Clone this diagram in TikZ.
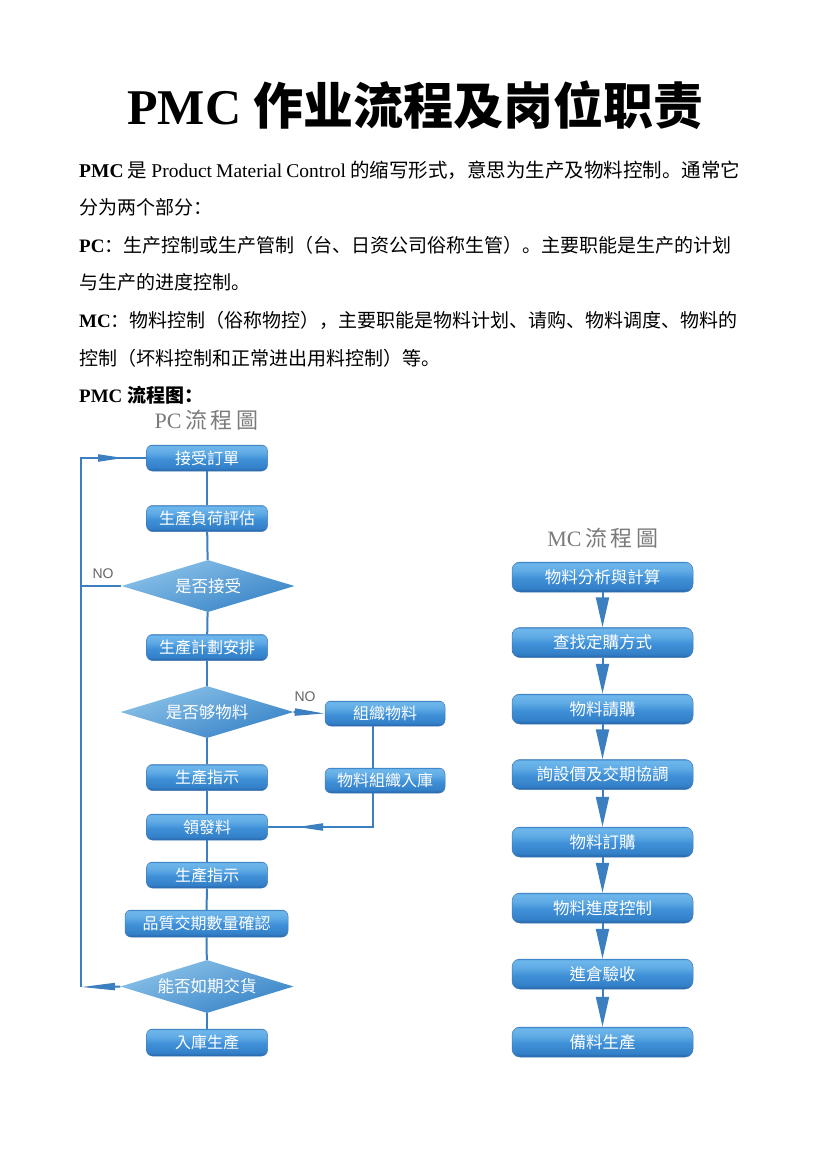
\documentclass[tikz,border=0pt]{standalone}
\usepackage{fontspec}
\setmainfont{Liberation Serif}
\newfontfamily\cjksc{Noto Sans CJK SC}
\newfontfamily\cjktc{Noto Sans CJK TC}
\newfontfamily\lsans{Liberation Sans}
\usetikzlibrary{shapes.geometric,arrows.meta}
\definecolor{lineblue}{HTML}{3B7FC0}
\definecolor{bedge}{HTML}{2563A8}
\definecolor{bdark}{HTML}{3380C8}
\definecolor{bmid}{HTML}{3F90D8}
\definecolor{blight}{HTML}{6CB5EA}
\definecolor{dtop}{HTML}{8EC4EA}
\definecolor{dbot}{HTML}{3582C6}
\definecolor{titlegray}{HTML}{7A7A7A}
\pgfdeclareverticalshading{boxshade}{100bp}{color(0bp)=(bedge); color(25bp)=(bedge); color(31bp)=(bdark); color(48bp)=(bmid); color(60bp)=(blight!70!bmid); color(70bp)=(blight); color(73bp)=(blight); color(75bp)=(bmid); color(100bp)=(bmid)}
\tikzset{
  every node/.style={inner sep=0pt},
  bodytext/.style={anchor=west, font=\fontsize{19}{19}\selectfont},
  pcbox/.style={rectangle, rounded corners=6pt, shading=boxshade, draw=bedge!85, line width=0.5pt,
     minimum width=121pt, minimum height=26pt, text=white, font=\cjktc\fontsize{16}{16}\selectfont},
  mcbox/.style={pcbox, rounded corners=8pt, minimum width=181pt, minimum height=30pt, font=\cjktc\fontsize{16.5}{16.5}\selectfont},
  decision/.style={diamond, aspect=3.3, top color=dtop, bottom color=dbot, shading angle=20,
     minimum width=173pt, minimum height=52pt, text=white, font=\cjktc\fontsize{16.5}{16.5}\selectfont},
  link/.style={draw=lineblue, line width=2pt},
  thinarrow/.style={link, -{Triangle[length=26pt,width=7pt]}},
  longarrow/.style={link, -{Triangle[length=34pt,width=7pt]}},
  bigarrow/.style={link, -{Triangle[length=30pt,width=13pt]}},
  nolabel/.style={text=black!60, font=\lsans\fontsize{14}{14}\selectfont},
  charttitle/.style={text=titlegray, font=\fontsize{22}{22}\selectfont}
}
\begin{document}
\begin{tikzpicture}[x=1pt,y=-1pt]
\useasboundingbox[fill=white] (0,0) rectangle (828,1171);

% Title
\node (title) at (415.5,105) {\fontsize{50}{50}\selectfont\bfseries PMC {\cjksc 作业流程及岗位职责}};

% Body text
\node[bodytext, font=\fontsize{19.5}{19.5}\selectfont] (l1) at (79,170) {\makebox[661pt][s]{\bfseries PMC\mdseries{} {\cjksc 是} Product Material Control {\cjksc 的缩写形式，意思为生产及物料控制。通常它}}};
\node[bodytext] (l2) at (79,207) {\cjksc 分为两个部分：};
\node[bodytext] (l3) at (79,245) {{\bfseries PC}{\cjksc ：生产控制或生产管制（台、日资公司俗称生管）。主要职能是生产的计划}};
\node[bodytext] (l4) at (79,282) {\cjksc 与生产的进度控制。};
\node[bodytext] (l5) at (79,320) {{\bfseries MC}{\cjksc ：物料控制（俗称物控），主要职能是物料计划、请购、物料调度、物料的}};
\node[bodytext] (l6) at (79,358) {\cjksc 控制（坏料控制和正常进出用料控制）等。};
\node[bodytext] (l7) at (79,395) {\bfseries PMC {\cjksc 流程图：}};

% PC chart
\node[charttitle] (pct) at (206.5,420) {PC{\cjktc\,流\,程\,圖}};
\node[pcbox] (n1) at (207,458) {接受訂單};
\node[pcbox] (n2) at (207,518.5) {生產負荷評估};
\node[decision] (d1) at (208,586) {是否接受};
\node[pcbox] (n3) at (207,647.5) {生產計劃安排};
\node[decision] (d2) at (207,712) {是否够物料};
\node[pcbox, minimum width=120pt, minimum height=25pt] (r1) at (385,713.5) {組織物料};
\node[pcbox, minimum width=120pt, minimum height=25pt] (r2) at (385,780.5) {物料組織入庫};
\node[pcbox] (n4) at (207,777.5) {生產指示};
\node[pcbox] (n5) at (207,827) {領發料};
\node[pcbox] (n6) at (207,875) {生產指示};
\node[pcbox, minimum width=163pt, minimum height=27pt] (n7) at (206.5,923.5) {品質交期數量確認};
\node[decision, minimum height=53pt] (d3) at (207,986.5) {能否如期交貨};
\node[pcbox, minimum height=27pt] (n8) at (207,1042.5) {入庫生產};

\node[nolabel] (no1) at (103,574) {NO};
\node[nolabel] (no2) at (305,697) {NO};

% trunk
\draw[link] (n1) -- (n2);
\draw[link] (n2) -- (d1);
\draw[link] (d1) -- (n3);
\draw[link] (n3) -- (d2);
\draw[link] (d2) -- (n4);
\draw[link] (n4) -- (n5);
\draw[link] (n5) -- (n6);
\draw[link] (n6) -- (n7);
\draw[link] (n7) -- (d3);
\draw[link] (d3) -- (n8);

% loop back
\coordinate (lb) at (81,987);
\coordinate (lt) at (81,458);
\coordinate (la) at (124,458);
\draw[link] (lb) -- (lt) -- (la) -- (n1.west);
\draw[longarrow] (d3.west) -- (lb);
\draw[thinarrow] (lt) -- (la);
\draw[link] (d1.west) -- (d1.west -| lt);

% material branch
\draw[link, -{Triangle[length=30pt,width=7pt]}] (d2.east) -- (r1.west);
\coordinate (xr) at (373,0);
\draw[link] (r1.south -| xr) -- (r2.north -| xr);
\coordinate (rc) at (xr |- n5.east);
\coordinate (ra) at (297,827);
\draw[link] (r2.south -| xr) -- (rc) -- (n5.east);
\draw[thinarrow] (rc) -- (ra);

% MC chart
\node[charttitle] (mct) at (603,538) {MC{\cjktc\,流\,程\,圖}};
\node[mcbox] (m1) at (602.5,577) {物料分析與計算};
\node[mcbox] (m2) at (602.5,642.5) {查找定購方式};
\node[mcbox] (m3) at (602.5,709) {物料請購};
\node[mcbox] (m4) at (602.5,774.5) {詢設價及交期協調};
\node[mcbox] (m5) at (602.5,842) {物料訂購};
\node[mcbox] (m6) at (602.5,908) {物料進度控制};
\node[mcbox] (m7) at (602.5,974) {進倉驗收};
\node[mcbox] (m8) at (602.5,1042) {備料生產};
\draw[bigarrow] (m1) -- (m2);
\draw[bigarrow] (m2) -- (m3);
\draw[bigarrow] (m3) -- (m4);
\draw[bigarrow] (m4) -- (m5);
\draw[bigarrow] (m5) -- (m6);
\draw[bigarrow] (m6) -- (m7);
\draw[bigarrow] (m7) -- (m8);
\end{tikzpicture}
\end{document}
